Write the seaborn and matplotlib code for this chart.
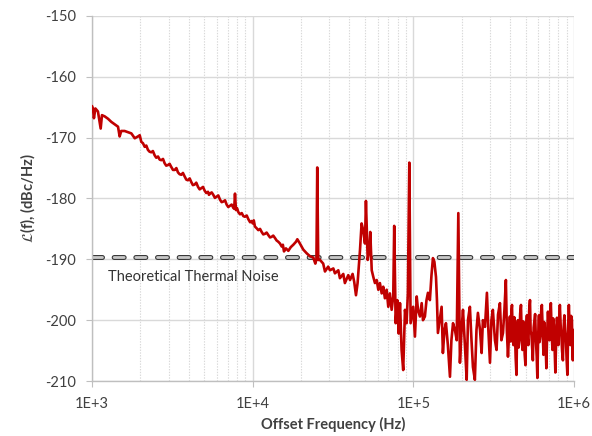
import numpy as np
import pandas as pd
import matplotlib
matplotlib.use("Agg")
import matplotlib.pyplot as plt
import matplotlib.patheffects as pe
import seaborn as sns

# ----------------------------------
# Data (offset frequency as log10(Hz), phase noise in dBc/Hz)
# ----------------------------------
log_freq = [
    3.000, 3.006, 3.012, 3.021, 3.037, 3.054, 3.062, 3.079, 3.100, 3.120,
    3.141, 3.162, 3.172, 3.182, 3.203, 3.224, 3.245, 3.266, 3.286, 3.297,
    3.307, 3.317, 3.328, 3.338, 3.348, 3.358, 3.369, 3.379, 3.390, 3.400,
    3.411, 3.421, 3.431, 3.442, 3.452, 3.462, 3.473, 3.483, 3.493, 3.504,
    3.515, 3.525, 3.535, 3.545, 3.556, 3.566, 3.577, 3.587, 3.597, 3.608,
    3.618, 3.628, 3.639, 3.649, 3.660, 3.670, 3.680, 3.691, 3.701, 3.711,
    3.722, 3.728, 3.734, 3.745, 3.755, 3.765, 3.776, 3.786, 3.797, 3.807,
    3.817, 3.828, 3.838, 3.848, 3.859, 3.869, 3.879, 3.885, 3.890, 3.896,
    3.903, 3.910, 3.921, 3.932, 3.942, 3.952, 3.963, 3.973, 3.984, 3.994,
    4.000, 4.007, 4.014, 4.025, 4.035, 4.046, 4.056, 4.066, 4.077, 4.087,
    4.097, 4.108, 4.118, 4.128, 4.139, 4.149, 4.159, 4.170, 4.181, 4.188,
    4.195, 4.207, 4.222, 4.237,
    4.253, 4.270, 4.278, 4.294, 4.315, 4.336, 4.357, 4.377, 4.390, 4.397,
    4.402, 4.408, 4.419, 4.439, 4.450, 4.470, 4.481, 4.502, 4.512, 4.533,
    4.543, 4.564, 4.574, 4.595, 4.606, 4.622, 4.632, 4.643, 4.653, 4.668,
    4.678, 4.688, 4.699, 4.705, 4.716, 4.726, 4.732, 4.741, 4.751, 4.761,
    4.772, 4.782, 4.792, 4.803, 4.813, 4.823, 4.834, 4.844, 4.854, 4.865,
    4.875, 4.881, 4.890, 4.900, 4.909, 4.917, 4.927, 4.937, 4.948, 4.958,
    4.966, 4.975, 4.983, 4.999, 5.010, 5.021, 5.029, 5.041, 5.052, 5.060,
    5.072, 5.082, 5.091, 5.103, 5.113, 5.122, 5.131, 5.141, 5.147, 5.153,
    5.166, 5.176, 5.184, 5.194, 5.203, 5.215, 5.228, 5.237, 5.247, 5.259,
    5.270, 5.280, 5.290, 5.300, 5.309, 5.321, 5.332, 5.340, 5.352, 5.362,
    5.371, 5.383, 5.393, 5.402, 5.415, 5.425, 5.433, 5.446, 5.458, 5.467,
    5.477, 5.486, 5.495, 5.508, 5.518, 5.527, 5.539, 5.548, 5.558, 5.567,
    5.576, 5.582, 5.589,
    5.601, 5.606, 5.610, 5.614, 5.619, 5.623, 5.628, 5.632, 5.637, 5.642,
    5.646, 5.651, 5.655, 5.660, 5.665, 5.670, 5.674, 5.679, 5.684, 5.688,
    5.693, 5.698, 5.702, 5.707, 5.712, 5.716, 5.721, 5.726, 5.730, 5.735,
    5.740, 5.744, 5.749, 5.754, 5.758, 5.763, 5.768, 5.772, 5.777, 5.782,
    5.786, 5.791, 5.795, 5.800, 5.805, 5.810, 5.814, 5.819, 5.824, 5.828,
    5.833, 5.838, 5.842, 5.847, 5.851, 5.856, 5.861, 5.866, 5.870, 5.875,
    5.880, 5.884, 5.889, 5.894, 5.898, 5.903, 5.908, 5.912, 5.917, 5.922,
    5.926, 5.931, 5.936, 5.940, 5.945, 5.950, 5.954, 5.959, 5.964, 5.968,
    5.973, 5.978, 5.982, 5.987, 5.990, 5.993, 5.996, 6.000,
]

phase_noise = [
    -164.8, -165.2, -166.8, -165.2, -165.7, -168.5, -166.3, -166.5, -166.9, -167.4,
    -167.8, -168.2, -169.8, -168.9, -168.9, -169.1, -169.3, -170.1, -169.8, -169.6,
    -170.7, -170.9, -171.5, -171.3, -172.0, -172.3, -172.4, -172.2, -172.9, -173.3,
    -173.1, -173.6, -173.7, -173.5, -174.2, -174.6, -174.5, -174.3, -174.8, -175.3,
    -175.3, -175.0, -175.7, -176.0, -176.1, -175.8, -176.4, -176.9, -177.0, -176.7,
    -177.3, -177.8, -177.7, -177.4, -178.1, -178.5, -178.3, -178.1, -178.7, -179.1,
    -178.9, -179.4, -179.2, -179.0, -179.4, -179.9, -179.7, -179.5, -180.2, -180.6,
    -180.5, -180.3, -181.0, -181.4, -181.2, -181.0, -181.5, -181.7, -179.2, -181.9,
    -181.6, -182.2, -182.6, -182.4, -182.9, -183.0, -182.8, -183.4, -183.9, -183.7,
    -184.1, -183.6, -184.6, -184.9, -185.2, -185.0, -185.5, -185.9, -185.8, -185.6,
    -186.0, -186.4, -186.3, -186.1, -186.5, -186.9, -187.1, -187.4, -187.9, -187.6,
    -188.7, -188.2, -188.6, -188.0,
    -187.6, -187.1, -186.7, -187.4, -188.4, -189.0, -189.5, -189.7, -190.7, -190.0,
    -174.9, -190.1, -190.1, -190.7, -192.0, -191.2, -191.8, -191.5, -192.3, -191.8,
    -193.1, -192.4, -193.9, -192.6, -193.4, -192.4, -193.7, -195.9, -193.9, -188.5,
    -184.1, -185.2, -187.4, -180.4, -190.1, -188.5, -185.5, -191.8, -192.9, -193.9,
    -193.4, -195.0, -193.9, -195.6, -194.5, -196.4, -195.0, -197.8, -195.6, -198.3,
    -196.1, -184.5, -200.5, -196.7, -202.2, -197.2, -204.9, -208.2, -198.3, -200.5,
    -195.6, -174.1, -200.5, -197.8, -202.7, -196.1, -198.3, -199.4, -197.2, -200.0,
    -199.4, -196.7, -195.5, -196.7, -192.6, -189.8, -190.4, -192.9, -196.7, -202.1,
    -199.6, -197.8, -205.4, -201.6, -200.5, -204.1, -209.3, -203.3, -200.5, -201.6,
    -203.3, -182.4, -207.0, -201.6, -198.3, -204.1, -209.8, -200.0, -197.8, -203.3,
    -207.7, -209.8, -201.6, -198.8, -201.6, -205.4, -200.0, -201.1, -195.5, -201.6,
    -207.0, -200.0, -198.3, -203.3, -204.9, -199.1, -197.2, -203.3, -202.1, -198.3,
    -193.4, -201.6, -206.0,
    -199.4, -203.5, -198.6, -197.5, -202.8, -204.1, -199.5, -201.6, -206.2, -209.0,
    -201.0, -200.0, -204.5, -203.3, -198.9, -197.5, -202.0, -204.9, -200.2, -200.8,
    -205.6, -207.4, -201.3, -199.2, -203.0, -204.1, -198.4, -196.7, -201.8, -202.4,
    -204.8, -206.6, -201.2, -200.0, -199.0, -203.3, -206.0, -209.5, -202.5, -199.2,
    -203.6, -202.4, -198.8, -197.5, -201.5, -205.7, -200.3, -201.6, -204.6, -207.9,
    -202.0, -198.6, -200.9, -203.3, -199.0, -197.2, -202.1, -204.9, -199.7, -200.8,
    -205.2, -208.6, -203.0, -199.6, -202.4, -204.1, -199.8, -197.5, -200.9, -202.9,
    -205.1, -206.6, -201.0, -199.2, -201.7, -203.3, -206.4, -209.0, -200.6, -197.5,
    -201.2, -204.1, -199.3, -200.0, -204.8, -206.6, -202.0, -201.6,
]

thermal_noise = -189.6
thermal_label = "Theoretical Thermal Noise"
x_ticks = [1e3, 1e4, 1e5, 1e6]
x_tick_labels = ["1E+3", "1E+4", "1E+5", "1E+6"]
y_ticks = [-210, -200, -190, -180, -170, -160, -150]

df = pd.DataFrame({"freq": 10 ** np.array(log_freq), "dbc": phase_noise})

# ----------------------------------
# Style
# ----------------------------------
sns.set_theme(style="white")
plt.rcParams["font.family"] = ["Lato", "DejaVu Sans"]
plt.rcParams["lines.scale_dashes"] = False
plt.rcParams["axes.unicode_minus"] = False

grid_col = "#d9d9d9"
text_col = "#404040"

fig = plt.figure(figsize=(5.92, 4.36), dpi=100)
ax = fig.add_axes([92 / 592, 1 - 381 / 436, (574 - 92) / 592, (381 - 16) / 436])

# thermal noise reference (dark outline, light grey fill)
ax.axhline(thermal_noise, color="#c8c8c8", lw=2.0, linestyle=(0, (7.2, 8.4)),
           dash_capstyle="round", zorder=2,
           path_effects=[pe.Stroke(linewidth=3.6, foreground="#3a3a3a"), pe.Normal()])

sns.lineplot(data=df, x="freq", y="dbc", ax=ax, color="#c00000", lw=1.9,
             estimator=None, sort=False, zorder=3)

ax.set_xscale("log")
ax.set_xlim(1e3, 1e6)
ax.set_ylim(-210, -150)

ax.set_xticks(x_ticks)
ax.set_xticklabels(x_tick_labels)
ax.xaxis.set_minor_locator(matplotlib.ticker.LogLocator(base=10, subs=np.arange(2, 10)))
ax.xaxis.set_minor_formatter(matplotlib.ticker.NullFormatter())
ax.set_yticks(y_ticks)

ax.grid(True, which="major", color=grid_col, lw=1.0, ls="-", zorder=0)
ax.grid(True, which="minor", axis="x", color=grid_col, lw=0.8, ls=(0, (1, 1)), zorder=0)
ax.set_axisbelow(True)

for side in ["top", "right"]:
    ax.spines[side].set_visible(False)
for side in ["left", "bottom"]:
    ax.spines[side].set_color("#bfbfbf")
    ax.spines[side].set_linewidth(1.0)

ax.tick_params(axis="both", which="major", length=4.5, width=0.8, color="#bfbfbf",
               labelsize=10.5, labelcolor=text_col, pad=7, direction="out",
               bottom=True, left=True)
ax.tick_params(axis="x", which="minor", length=0)

ax.text(1258, -192.9, thermal_label, fontsize=10.5, color="#333333",
        ha="left", va="center")

ax.set_xlabel("Offset Frequency (Hz)", fontsize=10.5, fontweight="bold",
              color=text_col, labelpad=4)
ax.set_ylabel(r"$\mathcal{L}$(f), (dBc/Hz)", fontsize=10.5, fontweight="bold",
              color=text_col, labelpad=6)

fig.savefig("out.png", dpi=100)
